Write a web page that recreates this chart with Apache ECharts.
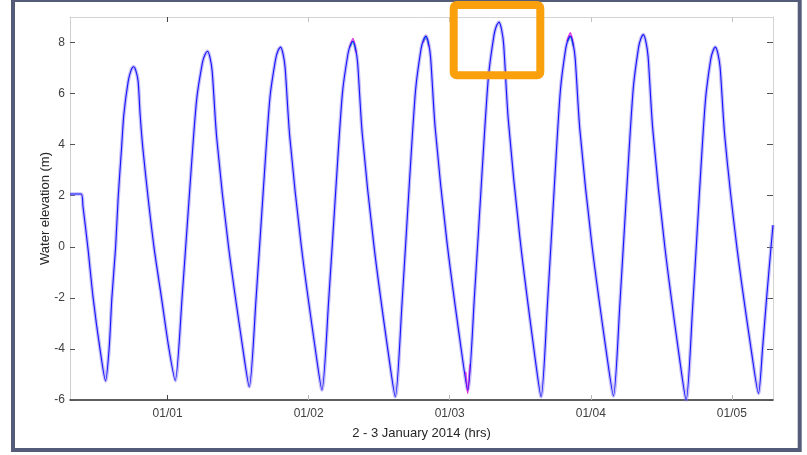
<!DOCTYPE html>
<html>
<head>
<meta charset="utf-8">
<script src="https://cdn.jsdelivr.net/npm/echarts@6/dist/echarts.min.js"></script>
<style>
  html, body { margin: 0; padding: 0; background: #fff; }
  #chart { width: 807px; height: 455px; }
</style>
</head>
<body>
<div id="chart"></div>
<script>
'use strict';

// hours since 01/01 00:00 -> water elevation (m)
const blueRun = [
  [-16.6, 2.07], [-14.7, 2.07], [-14.4, 1.6], [-13.55, -0.05], [-12.66, -2.01], [-11.52, -3.97], [-10.55, -5.25],
  [-9.94, -3.97], [-9.48, -2.01], [-8.85, -0.05], [-8.41, 1.91], [-7.83, 3.87], [-7.44, 5.18], [-6.70, 6.48], [-6.2, 6.92], [-5.79, 7.05],
  [-5.4, 6.9], [-5.01, 6.48], [-4.67, 5.18], [-4.21, 3.87], [-3.31, 1.91], [-2.29, -0.05], [-1.03, -2.01], [0.22, -3.97], [1.29, -5.24],
  [2.50, -1.89], [3.77, 2.24], [4.93, 5.73], [5.93, 7.21], [6.37, 7.53], [6.81, 7.66],
  [7.23, 7.40], [7.59, 6.87], [8.37, 4.24], [10.35, 0.04], [12.83, -4.03], [13.89, -5.48],
  [15.06, -2.02], [16.29, 2.23], [17.41, 5.83], [18.38, 7.35], [18.80, 7.69], [19.23, 7.82],
  [19.65, 7.55], [20.00, 7.01], [20.78, 4.33], [22.75, 0.03], [25.21, -4.13], [26.26, -5.61],
  [27.42, -2.06], [28.64, 2.31], [29.74, 6.00], [30.70, 7.57], [31.12, 7.91], [31.54, 8.05],
  [31.97, 7.77], [32.33, 7.21], [33.12, 4.43], [35.14, -0.02], [37.66, -4.34], [38.74, -5.87],
  [39.89, -2.20], [41.09, 2.32], [42.19, 6.13], [43.13, 7.76], [43.55, 8.11], [43.97, 8.25],
  [44.40, 7.97], [44.75, 7.42], [45.53, 4.65], [47.52, 0.21], [50.00, -4.09], [51.06, -5.61],
  [52.23, -1.86], [53.46, 2.75], [54.58, 6.64], [55.54, 8.30], [55.96, 8.66], [56.39, 8.80],
  [56.82, 8.51], [57.18, 7.92], [57.96, 4.99], [59.97, 0.29], [62.47, -4.26], [63.54, -5.87],
  [64.64, -2.20], [65.79, 2.32], [66.83, 6.13], [67.73, 7.76], [68.13, 8.11], [68.53, 8.25],
  [68.97, 7.97], [69.34, 7.40], [70.14, 4.59], [72.19, 0.08], [74.75, -4.29], [75.85, -5.84],
  [76.97, -2.16], [78.15, 2.37], [79.22, 6.19], [80.13, 7.81], [80.54, 8.17], [80.95, 8.31],
  [81.39, 8.02], [81.75, 7.45], [82.55, 4.59], [84.59, 0.01], [87.13, -4.43], [88.22, -6.00],
  [89.32, -2.41], [90.46, 2.02], [91.51, 5.75], [92.40, 7.34], [92.80, 7.68], [93.20, 7.82],
  [93.64, 7.55], [94.01, 7.01], [94.81, 4.29], [96.87, -0.04], [99.43, -4.25], [100.53, -5.74],
  [101.23, -3.97], [101.91, -2.01], [102.65, -0.05], [103.0, 0.85]
];

// other runs only show where they part from the blue one (peaks / troughs)
const magentaRun = [
  [30.95, 7.80], [31.54, 8.16], [32.05, 7.62], null,
  [43.45, 8.00], [43.97, 8.18], [44.45, 7.85], null,
  [50.70, -4.90], [51.06, -5.74], [51.45, -4.60], null,
  [67.95, 8.05], [68.53, 8.38], [69.05, 7.85]
];
const cyanRun = [
  [31.10, 7.85], [31.54, 8.02], [31.95, 7.70], null,
  [43.55, 8.05], [43.97, 8.20], [44.40, 7.90], null,
  [68.10, 8.05], [68.53, 8.22], [68.95, 7.90]
];

const dayTicks = [0, 24, 48, 72, 96];
const dayLabels = ['01/01', '01/02', '01/03', '01/04', '01/05'];
const elevTicks = [-6, -4, -2, 0, 2, 4, 6, 8];

const chart = echarts.init(document.getElementById('chart'), null, { renderer: 'canvas' });

const FONT = 'Liberation Sans, Arial, sans-serif';
const X_MIN = -16.6, X_MAX = 103;

const line = (name, data, color, width, z) => ({
  name, type: 'line', data, showSymbol: false, z,
  smooth: 0.25, connectNulls: false,
  lineStyle: { color, width }, emphasis: { disabled: true }
});

// bare axis carrying only ticks (box edges of the matlab-style frame)
const tickAxis = (position, ticks, color, show) => ({
  type: 'value', min: X_MIN, max: X_MAX, position,
  axisLine: { show, onZero: false, lineStyle: { color: '#d4d4d4' } },
  axisTick: { inside: true, length: 5, customValues: ticks, lineStyle: { color } },
  axisLabel: { show: false }, splitLine: { show: false }
});

chart.setOption({
  animation: false,
  grid: { left: 70, right: 34, top: 17, bottom: 55 },
  xAxis: [{
    type: 'value', min: X_MIN, max: X_MAX, position: 'bottom',
    name: '2 - 3 January 2014 (hrs)', nameLocation: 'middle', nameGap: 27, nameMoveOverlap: false,
    nameTextStyle: { fontFamily: FONT, fontSize: 13, color: '#262626' },
    axisLine: { onZero: false, lineStyle: { color: '#2a2a2a', width: 1.5 } },
    axisTick: { inside: true, length: 5, customValues: dayTicks, lineStyle: { color: '#b8b8b8' } },
    axisLabel: {
      customValues: dayTicks, margin: 8, fontFamily: FONT, fontSize: 12, color: '#404040',
      formatter: (v) => dayLabels[dayTicks.indexOf(v)] || ''
    },
    splitLine: { show: false }
  },
  tickAxis('top', dayTicks, '#c4c4c4', true),
  tickAxis('bottom', [0], '#444', false),
  tickAxis('top', [0], '#444', false)
  ],
  yAxis: [{
    type: 'value', min: -6, max: 9, position: 'left',
    name: 'Water elevation (m)', nameLocation: 'middle', nameGap: 18, nameMoveOverlap: false,
    nameTextStyle: { fontFamily: FONT, fontSize: 13, color: '#262626' },
    axisLine: { show: true, onZero: false, lineStyle: { color: '#cfcfcf' } },
    axisTick: { show: true, inside: true, length: 5, customValues: elevTicks, lineStyle: { color: '#555' } },
    axisLabel: { customValues: elevTicks, margin: 5, fontFamily: FONT, fontSize: 12, color: '#404040' },
    splitLine: { show: false }
  }, {
    type: 'value', min: -6, max: 9, position: 'right',
    axisLine: { show: true, onZero: false, lineStyle: { color: '#d4d4d4' } },
    axisTick: { show: true, inside: true, length: 6, customValues: elevTicks, lineStyle: { color: '#555' } },
    axisLabel: { show: false }, splitLine: { show: false }
  }],
  series: [
    line('ensemble', blueRun, 'rgba(140,125,240,0.5)', 3.6, 1),
    line('run 2', magentaRun, '#e030e0', 1.6, 2),
    line('run 3', cyanRun, '#20b0c0', 1.2, 3),
    line('run 1', blueRun, '#1414ff', 1.1, 4)
  ],
  graphic: [
    { type: 'rect', z: 100, silent: true,
      shape: { x: 13, y: 0, width: 786.7, height: 450 },
      style: { fill: null, stroke: '#555c7a', lineWidth: 4 } },
    { type: 'rect', z: 100, silent: true,
      shape: { x: 453.7, y: 5, width: 86.6, height: 70.3, r: 3 },
      style: { fill: null, stroke: '#f9a00c', lineWidth: 8 } }
  ]
});
</script>
</body>
</html>
